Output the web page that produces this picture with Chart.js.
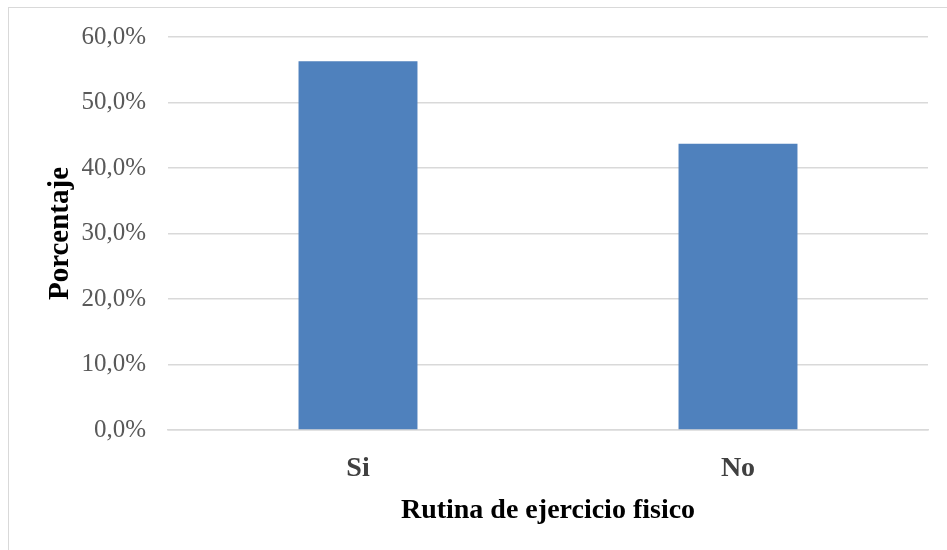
<!DOCTYPE html>
<html>
<head>
<meta charset="utf-8">
<script src="https://cdn.jsdelivr.net/npm/chart.js@4"></script>
<style>
  html, body { margin: 0; padding: 0; background: #fff; }
  #frame { position: absolute; left: 8px; top: 7px; width: 960px; height: 560px; border: 1px solid #d9d9d9; }
  #wrap { position: absolute; left: 0; top: 0; width: 947px; height: 550px; }
</style>
</head>
<body>
<div id="frame"></div>
<div id="wrap"><canvas id="myChart"></canvas></div>
<script>
const categories = ['Si', 'No'];
const percentages = [56.3, 43.7];
const yTicks = [0, 10, 20, 30, 40, 50, 60];

const ctx = document.getElementById('myChart').getContext('2d');
const myChart = new Chart(ctx, {
    type: 'bar',
    data: {
        labels: categories,
        datasets: [{
            label: 'Porcentaje',
            data: percentages,
            backgroundColor: '#4f81bd',
            borderWidth: 0,
            categoryPercentage: 1,
            barPercentage: 0.313
        }]
    },
    options: {
        responsive: true,
        maintainAspectRatio: false,
        animation: false,
        layout: { padding: { left: 8, top: 36, right: 19, bottom: 0 } },
        plugins: { legend: { display: false }, tooltip: { enabled: false } },
        scales: {
            x: {
                grid: { display: false, drawTicks: false },
                border: { display: true, color: '#d9d9d9', width: 1.5 },
                ticks: {
                    padding: 22,
                    color: '#404040',
                    font: { family: 'Liberation Serif', size: 28, weight: 'bold' }
                },
                title: {
                    display: true,
                    text: 'Rutina de ejercicio fisico',
                    color: '#000',
                    padding: { top: 0, bottom: 22 },
                    font: { family: 'Liberation Serif', size: 28, weight: 'bold' }
                },
                afterFit: function (scale) { scale.height = 120; }
            },
            y: {
                min: 0,
                max: 60,
                afterBuildTicks: function (scale) {
                    scale.ticks = yTicks.map(v => ({ value: v }));
                },
                grid: { color: '#d9d9d9', lineWidth: 1.5, drawTicks: false },
                border: { display: false },
                ticks: {
                    padding: 22,
                    color: '#595959',
                    font: { family: 'Liberation Serif', size: 25 },
                    callback: function (value) {
                        return value.toFixed(1).replace('.', ',') + '%';
                    }
                },
                title: {
                    display: true,
                    text: 'Porcentaje',
                    color: '#000',
                    padding: { top: 35, bottom: 0 },
                    font: { family: 'Liberation Serif', size: 29, weight: 'bold' }
                },
                afterFit: function (scale) { scale.width = 160; }
            }
        }
    }
});
</script>
</body>
</html>
